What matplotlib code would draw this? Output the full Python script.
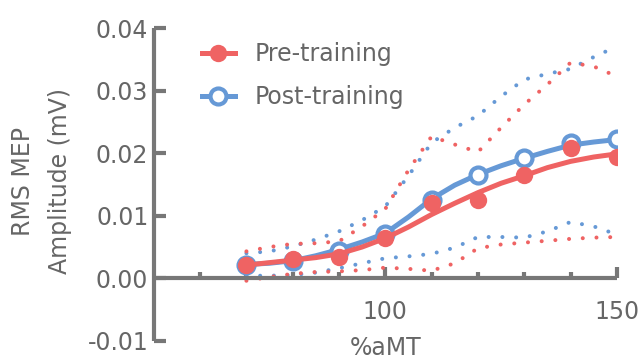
import numpy as np
import matplotlib
matplotlib.use('Agg')
import matplotlib.pyplot as plt
from matplotlib.lines import Line2D

plt.rcParams['font.family'] = ['DejaVu Sans']

# Measured points (%aMT vs RMS MEP amplitude)
AMT = [70, 80, 90, 100, 110, 120, 130, 140, 150]
PRE = [0.0021, 0.0030, 0.0034, 0.0064, 0.0121, 0.0125, 0.0166, 0.0209, 0.0194]
POST = [0.0021, 0.0027, 0.0043, 0.0070, 0.0126, 0.0165, 0.0192, 0.0217, 0.0223]

# Fitted curves and confidence bands, read every 5 %aMT
FIT_X = [70, 75, 80, 85, 90, 95, 100, 105, 110, 115, 120, 125, 130, 135, 140, 145, 150]
PRE_FIT = [0.0021, 0.0025, 0.0029, 0.0033, 0.0039, 0.0050, 0.0064, 0.0082, 0.0102,
           0.0120, 0.0137, 0.0152, 0.0164, 0.0177, 0.0187, 0.0194, 0.0199]
POST_FIT = [0.0022, 0.0024, 0.0028, 0.0036, 0.0046, 0.0058, 0.0072, 0.0098, 0.0127,
            0.0149, 0.0166, 0.0180, 0.0192, 0.0203, 0.0213, 0.0218, 0.0222]
PRE_HI = [0.0043, 0.0050, 0.0055, 0.0056, 0.0059, 0.0083, 0.0111, 0.0173, 0.0227,
          0.0214, 0.0202, 0.0241, 0.0278, 0.0310, 0.0345, 0.0339, 0.0323]
PRE_LO = [-0.0004, 0.0002, 0.0007, 0.0010, 0.0011, 0.0013, 0.0017, 0.0015, 0.0012,
          0.0024, 0.0048, 0.0054, 0.0057, 0.0060, 0.0063, 0.0065, 0.0066]
POST_HI = [0.0040, 0.0043, 0.0051, 0.0062, 0.0075, 0.0093, 0.0115, 0.0164, 0.0217,
           0.0241, 0.0260, 0.0291, 0.0318, 0.0327, 0.0335, 0.0354, 0.0371]
POST_LO = [0.0004, 0.0004, 0.0005, 0.0009, 0.0016, 0.0024, 0.0032, 0.0035, 0.0039,
           0.0049, 0.0066, 0.0066, 0.0065, 0.0075, 0.0090, 0.0083, 0.0070]

RED = '#EF6363'
BLUE = '#6699D6'
AXIS = '#777777'
TEXT = '#666666'
FS = 17

fig = plt.figure(figsize=(6.43, 3.62), dpi=100)
ax = fig.add_axes([0.2392, 0.0588, 0.7201, 0.863])

dots = (0, (0.01, 3.4))
for lo, hi, c in [(POST_LO, POST_HI, BLUE), (PRE_LO, PRE_HI, RED)]:
    for band in (lo, hi):
        ax.plot(FIT_X, band, color=c, lw=2.9, linestyle=dots,
                dash_capstyle='round', zorder=2)

ax.plot(FIT_X, POST_FIT, color=BLUE, lw=3.6, solid_capstyle='butt', zorder=3)
ax.plot(AMT, POST, 'o', ms=11.5, mfc='white', mec=BLUE, mew=3, zorder=4)
ax.plot(FIT_X, PRE_FIT, color=RED, lw=3.6, solid_capstyle='butt', zorder=5)
ax.plot(AMT, PRE, 'o', ms=12.5, mfc=RED, mec=RED, mew=0, zorder=6)

ax.set_xlim(50, 150)
ax.set_ylim(-0.01, 0.04)
ax.spines['top'].set_visible(False)
ax.spines['right'].set_visible(False)
ax.spines['bottom'].set_position(('data', 0))
for s in ('left', 'bottom'):
    ax.spines[s].set_linewidth(3)
    ax.spines[s].set_color(AXIS)
    ax.spines[s].set_capstyle('butt')

ax.set_xticks([100, 150])
ax.set_xticks([60, 70, 80, 90, 110, 120, 130, 140], minor=True)
ax.set_xticklabels(['100', '150'])
ax.set_yticks([-0.01, 0.0, 0.01, 0.02, 0.03, 0.04])
ax.set_yticklabels(['-0.01', '0.00', '0.01', '0.02', '0.03', '0.04'])
ax.tick_params(axis='x', which='major', direction='in', length=8, width=3,
               color=AXIS, labelcolor=TEXT, labelsize=FS, pad=16)
ax.tick_params(axis='x', which='minor', direction='in', length=4.5, width=3,
               color=AXIS)
ax.tick_params(axis='y', direction='in', length=8.5, width=3, color=AXIS,
               labelcolor=TEXT, labelsize=FS, pad=4)

ax.set_xlabel('%aMT', fontsize=FS, color=TEXT)
ax.xaxis.set_label_coords(0.5, 0.014)
ax.set_ylabel('RMS MEP\nAmplitude (mV)', fontsize=FS, color=TEXT,
              multialignment='center', linespacing=1.7)
ax.yaxis.label.set_va('center')
ax.yaxis.set_label_coords(-0.242, 0.51)

handles = [
    Line2D([], [], color=RED, lw=3.6, marker='o', ms=12.5, mfc=RED, mew=0),
    Line2D([], [], color=BLUE, lw=3.6, marker='o', ms=11.5, mfc='white',
           mec=BLUE, mew=3),
]
leg = ax.legend(handles, ['Pre-training', 'Post-training'], loc='upper left',
                bbox_to_anchor=(0.104, 0.955), frameon=False, fontsize=FS,
                handlelength=1.4, handletextpad=0.85, labelspacing=0.8,
                borderpad=0, borderaxespad=0)
for t in leg.get_texts():
    t.set_color(TEXT)

fig.savefig('out.png', dpi=100)
